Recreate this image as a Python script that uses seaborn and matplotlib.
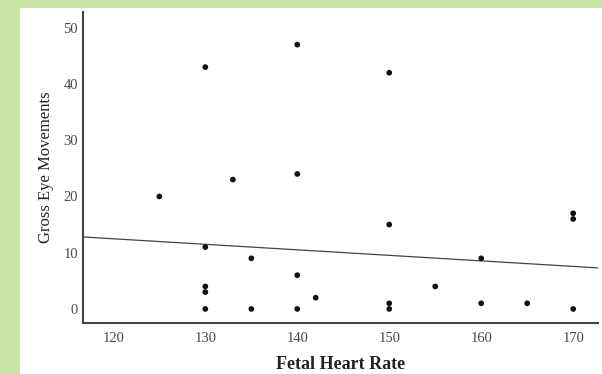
import matplotlib
matplotlib.use("Agg")
import matplotlib.pyplot as plt
import seaborn as sns
import pandas as pd
from matplotlib.patches import Rectangle

heart_rate = [125, 130, 130, 130, 130, 130, 133, 135, 135, 140, 140, 140, 140,
              142, 150, 150, 150, 150, 155, 160, 160, 165, 170, 170, 170]
eye_moves = [20, 43, 11, 4, 3, 0, 23, 9, 0, 47, 24, 6, 0,
             2, 42, 15, 1, 0, 4, 9, 1, 1, 17, 16, 0]
# fitted line as drawn in the reference (endpoints at axis edges)
fit_x = [116.7, 172.7]
fit_y = [12.8, 7.3]
x_ticks = [120, 130, 140, 150, 160, 170]
y_ticks = [0, 10, 20, 30, 40, 50]

df = pd.DataFrame({"Fetal Heart Rate": heart_rate, "Gross Eye Movements": eye_moves})
fit_df = pd.DataFrame({"x": fit_x, "y": fit_y})

sns.set_theme(style="white")
plt.rcParams["font.family"] = ["Liberation Serif", "DejaVu Serif"]

fig = plt.figure(figsize=(6.02, 3.74), dpi=100)
fig.patch.set_facecolor("white")
green = "#c9e2a6"
fig.patches.append(Rectangle((0, 0), 20 / 602, 1, transform=fig.transFigure,
                             facecolor=green, edgecolor="none", zorder=0))
fig.patches.append(Rectangle((0, 1 - 8 / 374), 1, 8 / 374, transform=fig.transFigure,
                             facecolor=green, edgecolor="none", zorder=0))

ax = fig.add_axes([83 / 602, 1 - 323 / 374, (598 - 83) / 602, (323 - 12) / 374])

sns.scatterplot(data=df, x="Fetal Heart Rate", y="Gross Eye Movements", ax=ax,
                s=17, color="#111111", edgecolor="none", alpha=1, zorder=3)
sns.lineplot(data=fit_df, x="x", y="y", ax=ax, color="#444444", lw=0.9, zorder=2)

ax.set_xlim(116.7, 172.7)
ax.set_ylim(-2.5, 52.8)
ax.set_xticks(x_ticks)
ax.set_yticks(y_ticks)
ax.tick_params(axis="both", length=0, labelsize=10.5, labelcolor="#4a4a4a")
ax.tick_params(axis="x", pad=6.5)
ax.tick_params(axis="y", pad=3.5)
for s in ["top", "right"]:
    ax.spines[s].set_visible(False)
for s in ["left", "bottom"]:
    ax.spines[s].set_color("#444444")
    ax.spines[s].set_linewidth(1.5)
ax.set_xlabel("Fetal Heart Rate", fontsize=13, color="#222222", fontweight="bold", labelpad=8)
ax.set_ylabel("Gross Eye Movements", fontsize=12, color="#222222", labelpad=7)

fig.savefig("out.png", dpi=100, facecolor=fig.get_facecolor())
